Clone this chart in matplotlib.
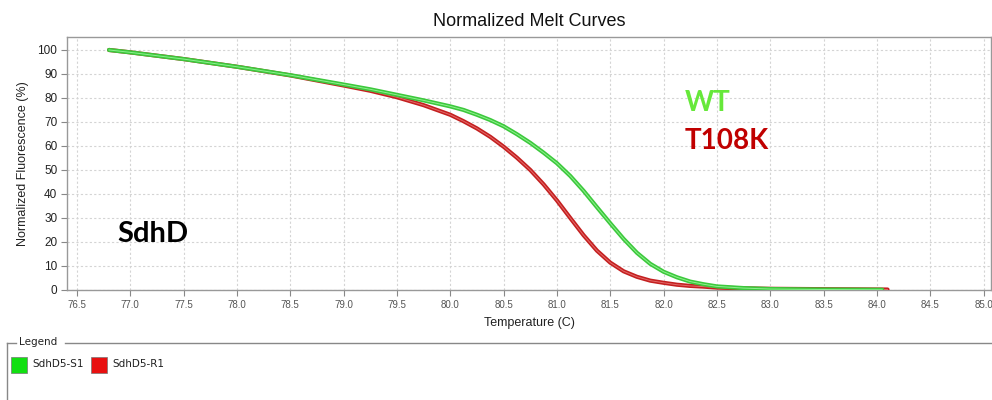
import matplotlib
matplotlib.use("Agg")
import matplotlib.pyplot as plt
from matplotlib.patches import Rectangle
from matplotlib.lines import Line2D

# melt curve readings (temperature in C, normalized fluorescence in %)
wt_temp = [76.8, 77.0, 77.5, 78.0, 78.5, 79.0, 79.25, 79.5, 79.75, 80.0,
           80.125, 80.25, 80.375, 80.5, 80.625, 80.75, 80.875, 81.0, 81.125,
           81.25, 81.375, 81.5, 81.625, 81.75, 81.875, 82.0, 82.125, 82.25,
           82.375, 82.5, 82.75, 83.0, 83.5, 84.05]
wt_fluor = [100.0, 99.0, 96.2, 93.0, 89.5, 85.6, 83.6, 81.3, 79.0, 76.5,
            75.0, 73.0, 70.8, 68.2, 64.9, 61.3, 57.2, 52.8, 47.5,
            41.3, 34.5, 27.8, 21.3, 15.5, 10.9, 7.6, 5.3, 3.5,
            2.4, 1.5, 0.8, 0.4, 0.2, 0.1]

mut_temp = [76.8, 77.0, 77.5, 78.0, 78.5, 79.0, 79.25, 79.5, 79.75, 80.0,
            80.125, 80.25, 80.375, 80.5, 80.625, 80.75, 80.875, 81.0, 81.125,
            81.25, 81.375, 81.5, 81.625, 81.75, 81.875, 82.0, 82.125, 82.25,
            82.375, 82.5, 82.75, 83.0, 83.5, 84.1]
mut_fluor = [100.0, 99.0, 96.2, 93.0, 89.4, 85.2, 83.0, 80.3, 77.0, 73.0,
             70.3, 67.3, 63.8, 59.7, 55.1, 50.0, 44.0, 37.3, 30.0,
             22.8, 16.4, 11.4, 7.8, 5.5, 3.9, 3.0, 2.2, 1.7,
             1.4, 1.0, 0.7, 0.5, 0.35, 0.2]

x_ticks = [76.5, 77.0, 77.5, 78.0, 78.5, 79.0, 79.5, 80.0, 80.5, 81.0,
           81.5, 82.0, 82.5, 83.0, 83.5, 84.0, 84.5, 85.0]
y_ticks = [0, 10, 20, 30, 40, 50, 60, 70, 80, 90, 100]
legend_names = ["SdhD5-S1", "SdhD5-R1"]

fig = plt.figure(figsize=(9.92, 4.0), dpi=100)
ax = fig.add_axes([67 / 992, 110 / 400, 924 / 992, 253 / 400])

# red curves first, green drawn on top
ax.plot(mut_temp, mut_fluor, color="#c42020", lw=3.0, solid_capstyle="round",
        solid_joinstyle="round", zorder=3)
ax.plot(mut_temp, mut_fluor, color="#e36a6a", lw=0.7, zorder=4)
ax.plot(wt_temp, wt_fluor, color="#3cc83c", lw=3.0, solid_capstyle="round",
        solid_joinstyle="round", zorder=5)
ax.plot(wt_temp, wt_fluor, color="#8ef08e", lw=0.7, zorder=6)

ax.set_xlim(76.406, 85.07)
ax.set_ylim(0, 105.4)
ax.set_xticks(x_ticks)
ax.set_xticklabels([f"{t:.1f}" for t in x_ticks], fontsize=7, color="#555555",
                   family="Liberation Sans")
ax.set_yticks(y_ticks)
ax.set_yticklabels([str(v) for v in y_ticks], fontsize=8.5, color="#222222",
                   family="Liberation Sans")
ax.tick_params(axis="both", length=4, width=0.8, color="#888888", pad=3)

ax.grid(True, color="#d4d4d4", linestyle=(0, (2, 2)), linewidth=0.8)
ax.set_axisbelow(True)
for s in ax.spines.values():
    s.set_color("#999999")
    s.set_linewidth(1.0)

ax.set_title("Normalized Melt Curves", fontsize=13, family="Liberation Sans",
             color="#111111", pad=8)
ax.set_xlabel("Temperature (C)", fontsize=9, family="Liberation Sans",
              color="#222222", labelpad=5)
ax.set_ylabel("Normalized Fluorescence (%)", fontsize=9, family="Liberation Sans",
              color="#222222", labelpad=6)

# annotations
ax.text(76.88, 23.5, "SdhD", fontsize=21, fontweight="bold", family="Lato",
        color="black", va="center", ha="left")
ax.text(82.2, 77.8, "WT", fontsize=20, fontweight="bold", family="Lato",
        color="#66e83a", va="center", ha="left")
ax.text(82.2, 62, "T108K", fontsize=20, fontweight="bold", family="Lato",
        color="#c00000", va="center", ha="left")

# legend frame in figure pixel coordinates
def fx(px):
    return px / 992

def fy(py):
    return 1 - py / 400

frame_col = "#888888"
fig.add_artist(Line2D([fx(7), fx(7)], [fy(343), fy(400)], color=frame_col, lw=1))
fig.add_artist(Line2D([fx(7), fx(16)], [fy(343), fy(343)], color=frame_col, lw=1))
fig.add_artist(Line2D([fx(65), fx(992)], [fy(343), fy(343)], color=frame_col, lw=1))
fig.text(fx(19), fy(342), "Legend", fontsize=7.5, family="DejaVu Sans",
         color="#222222", va="center", ha="left")

legend_colors = ["#11e011", "#e81010"]
patch_x = [11, 91]
for name, col, px in zip(legend_names, legend_colors, patch_x):
    fig.add_artist(Rectangle((fx(px), fy(373)), 16 / 992, 16 / 400,
                             facecolor=col, edgecolor="#777777", lw=0.5))
    fig.text(fx(px + 21), fy(364), name, fontsize=7.5, family="DejaVu Sans",
             color="#222222", va="center", ha="left")

fig.savefig("out.png", dpi=100)
